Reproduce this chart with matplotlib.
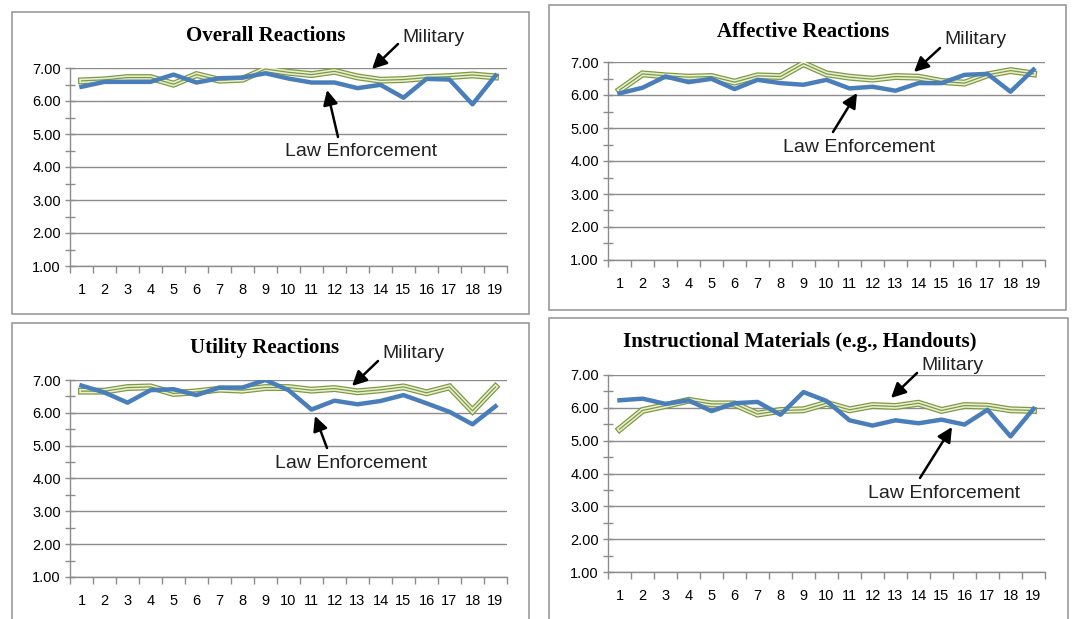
import matplotlib
matplotlib.use("Agg")
import matplotlib.pyplot as plt
from matplotlib.patches import Rectangle
from matplotlib.ticker import MultipleLocator

W, H = 1074, 619

sessions = list(range(1, 20))

overall_law = [6.43, 6.58, 6.58, 6.58, 6.80, 6.56, 6.69, 6.71, 6.84, 6.68,
               6.56, 6.56, 6.39, 6.49, 6.10, 6.67, 6.65, 5.90, 6.77]
overall_mil = [6.61, 6.64, 6.71, 6.71, 6.51, 6.80, 6.63, 6.66, 6.97, 6.87,
               6.80, 6.90, 6.73, 6.63, 6.65, 6.71, 6.74, 6.79, 6.73]

affective_law = [6.05, 6.22, 6.56, 6.39, 6.49, 6.18, 6.46, 6.36, 6.31, 6.46,
                 6.20, 6.25, 6.13, 6.36, 6.36, 6.61, 6.64, 6.10, 6.77]
affective_mil = [6.15, 6.64, 6.58, 6.54, 6.56, 6.39, 6.58, 6.56, 6.95, 6.64,
                 6.54, 6.48, 6.56, 6.54, 6.41, 6.36, 6.61, 6.74, 6.64]

utility_law = [6.83, 6.62, 6.31, 6.69, 6.72, 6.54, 6.77, 6.77, 7.00, 6.69,
               6.10, 6.37, 6.26, 6.36, 6.54, 6.29, 6.03, 5.65, 6.20]
utility_mil = [6.66, 6.66, 6.77, 6.79, 6.59, 6.64, 6.72, 6.69, 6.77, 6.77,
               6.69, 6.74, 6.64, 6.70, 6.79, 6.61, 6.79, 6.06, 6.79]

materials_law = [6.23, 6.28, 6.12, 6.23, 5.90, 6.14, 6.18, 5.79, 6.48, 6.21,
                 5.62, 5.46, 5.62, 5.53, 5.64, 5.49, 5.94, 5.13, 5.97]
materials_mil = [5.35, 5.92, 6.07, 6.23, 6.12, 6.12, 5.81, 5.92, 5.94, 6.14,
                 5.94, 6.07, 6.04, 6.14, 5.92, 6.07, 6.05, 5.94, 5.92]

titles = ["Overall Reactions", "Affective Reactions",
          "Utility Reactions", "Instructional Materials (e.g., Handouts)"]
law_series = [overall_law, affective_law, utility_law, materials_law]
mil_series = [overall_mil, affective_mil, utility_mil, materials_mil]
y_ticks = [1, 2, 3, 4, 5, 6, 7]

BLUE = "#4a7ebb"
GREEN = "#7f9a3e"
GREEN_LIGHT = "#e8efd6"
GRID = "#8c8c8c"


def fig_xy(x, y):
    # pixel position (origin top-left) -> figure fraction
    return (x / W, 1 - y / H)


# layout in pixels: frame box, axes box, title centre, label/arrow positions
panels = [
    dict(frame=(12, 12, 529, 314), axes=(70, 68, 507, 266), title=(266, 36),
         mil_text=(402, 37), mil_tail=(398, 44), mil_head=(372, 69),
         law_text=(285, 151), law_tail=(338, 137), law_head=(327, 90)),
    dict(frame=(549, 5, 1066, 310), axes=(608, 62, 1045, 260), title=(803, 32),
         mil_text=(944, 40), mil_tail=(940, 48), mil_head=(914, 72),
         law_text=(783, 147), law_tail=(833, 132), law_head=(857, 93)),
    dict(frame=(12, 323, 529, 625), axes=(70, 380, 507, 577), title=(265, 348),
         mil_text=(382, 353), mil_tail=(378, 361), mil_head=(352, 386),
         law_text=(275, 463), law_tail=(327, 448), law_head=(315, 416)),
    dict(frame=(549, 318, 1068, 625), axes=(608, 375, 1045, 572), title=(800, 342),
         mil_text=(921, 365), mil_tail=(917, 373), mil_head=(891, 398),
         law_text=(868, 493), law_tail=(920, 478), law_head=(952, 427)),
]

fig = plt.figure(figsize=(W / 100, H / 100), dpi=100)
fig.patch.set_facecolor("white")

for p, title, law, mil in zip(panels, titles, law_series, mil_series):
    fx0, fy0, fx1, fy1 = p["frame"]
    fig.patches.append(Rectangle(fig_xy(fx0, fy1), (fx1 - fx0) / W, (fy1 - fy0) / H,
                                 transform=fig.transFigure, fill=False,
                                 edgecolor="#9a9a9a", lw=1.2, zorder=0))

    l, t, r, b = p["axes"]
    ax = fig.add_axes([l / W, 1 - b / H, (r - l) / W, (b - t) / H])
    ax.set_xlim(0.5, 19.5)
    ax.set_ylim(1, 7)

    # Military: triple compound line
    ax.plot(sessions, mil, color=GREEN, lw=5.0, solid_joinstyle="miter", zorder=3)
    ax.plot(sessions, mil, color=GREEN_LIGHT, lw=3.2, solid_joinstyle="miter", zorder=4)
    ax.plot(sessions, mil, color=GREEN, lw=0.9, solid_joinstyle="miter", zorder=5)
    # Law enforcement
    ax.plot(sessions, law, color=BLUE, lw=3.2, zorder=6)

    ax.set_yticks(y_ticks)
    ax.set_yticklabels([f"{v:.2f}" for v in y_ticks], fontsize=10.5,
                       fontfamily="Liberation Sans")
    ax.yaxis.set_minor_locator(MultipleLocator(0.5))
    ax.tick_params(axis="y", which="both", direction="inout", length=7,
                   color=GRID, width=1, pad=3)
    ax.grid(axis="y", which="major", color=GRID, lw=1)

    ax.set_xticks([i + 0.5 for i in range(0, 20)])
    ax.set_xticklabels([])
    ax.set_xticks(sessions, minor=True)
    ax.set_xticklabels([str(s) for s in sessions], minor=True, fontsize=10.5,
                       fontfamily="Liberation Sans")
    ax.tick_params(axis="x", which="major", direction="out", length=5,
                   color=GRID, width=1)
    ax.tick_params(axis="x", which="minor", length=0, pad=12)

    for side in ("top", "right"):
        ax.spines[side].set_visible(False)
    for side in ("left", "bottom"):
        ax.spines[side].set_color(GRID)
        ax.spines[side].set_linewidth(1)
    ax.set_axisbelow(True)

    fig.text(*fig_xy(*p["title"]), title, ha="center", va="center",
             fontsize=15, fontweight="bold", fontfamily="Liberation Serif")

    fig.text(*fig_xy(*p["mil_text"]), "Military", ha="left", va="center",
             fontsize=14, fontfamily="Liberation Sans", color="#222222")
    fig.text(*fig_xy(*p["law_text"]), "Law Enforcement", ha="left", va="center",
             fontsize=14, fontfamily="Liberation Sans", color="#222222")
    for tail, head in ((p["mil_tail"], p["mil_head"]), (p["law_tail"], p["law_head"])):
        ax.annotate("", xy=fig_xy(*head), xycoords="figure fraction",
                    xytext=fig_xy(*tail), textcoords="figure fraction",
                    arrowprops=dict(arrowstyle="-|>", color="black", lw=1.8,
                                    mutation_scale=22, shrinkA=0, shrinkB=0),
                    annotation_clip=False, zorder=10)

fig.savefig("out.png", dpi=100)
